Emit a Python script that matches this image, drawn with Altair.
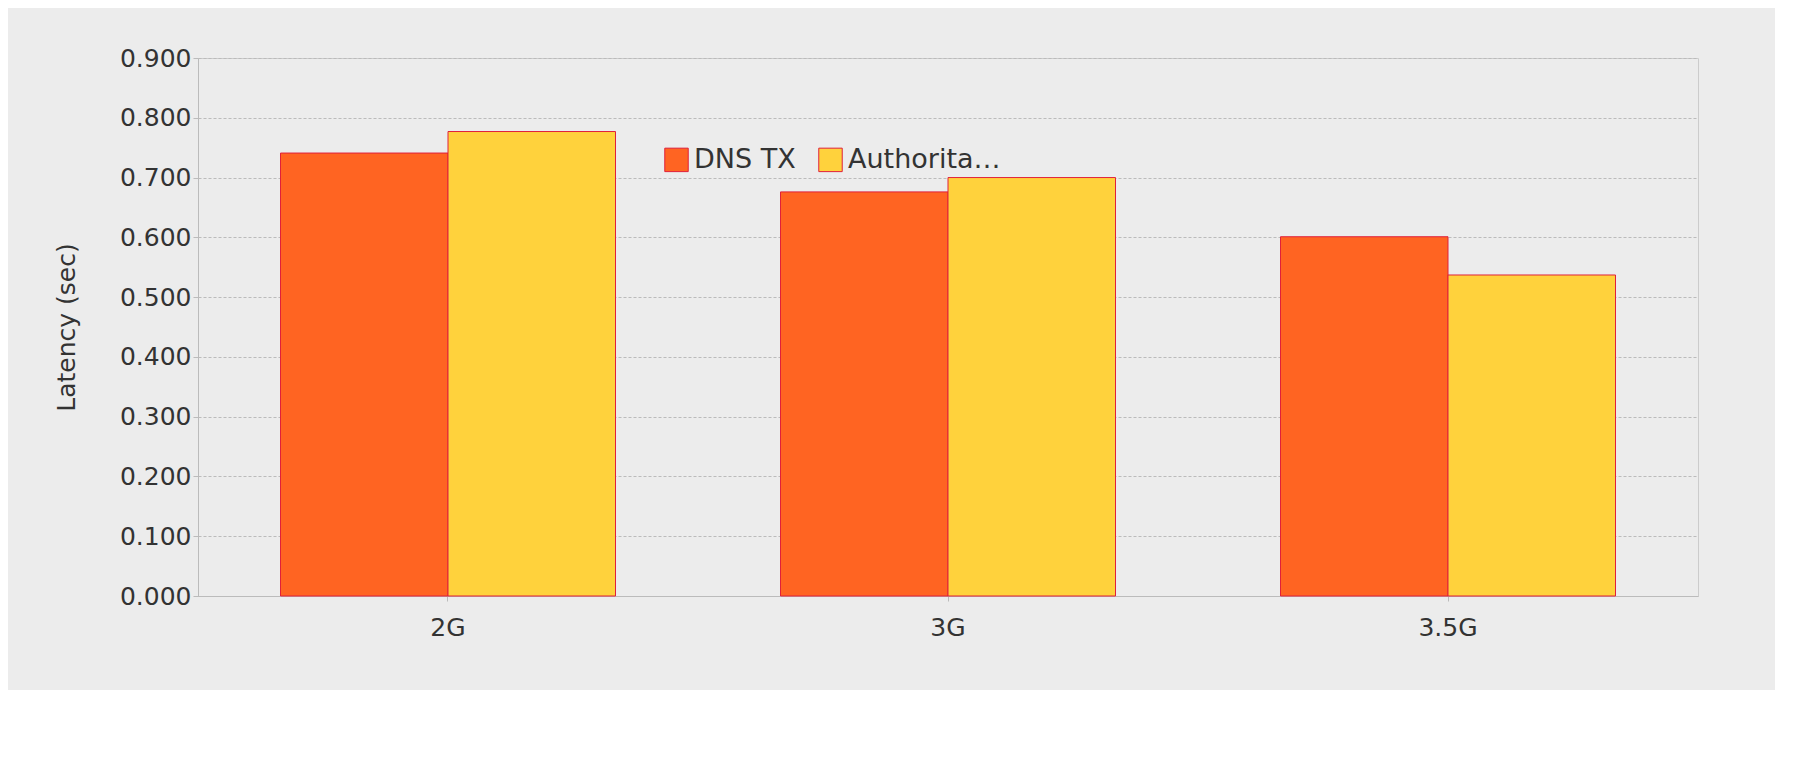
import altair as alt
import pandas as pd

groups = ["2G", "3G", "3.5G"]
series = ["DNS TX", "Authoritative"]
dns_tx = [0.741, 0.676, 0.601]
authoritative = [0.777, 0.700, 0.537]

rows = []
for g, a, b in zip(groups, dns_tx, authoritative):
    rows.append({"net": g, "series": "DNS TX", "v": a})
    rows.append({"net": g, "series": "Authoritative", "v": b})
df = pd.DataFrame(rows)

font = "DejaVu Sans"
chart = alt.Chart(df).mark_bar(stroke="#e0203a", strokeWidth=1).encode(
    x=alt.X("net:N", sort=groups, title=None,
            scale=alt.Scale(paddingInner=0.33, paddingOuter=0.165),
            axis=alt.Axis(labelAngle=0, labelFontSize=25, labelColor="#333",
                          labelFont=font, domainColor="#bbb", tickColor="#bbb",
                          labelPadding=14)),
    xOffset=alt.XOffset("series:N", sort=series),
    y=alt.Y("v:Q", title="Latency (sec)",
            scale=alt.Scale(domain=[0, 0.9]),
            axis=alt.Axis(values=[i / 10 for i in range(10)], format=".3f",
                          labelFontSize=25, labelColor="#333", labelFont=font,
                          titleFontSize=25, titleColor="#333", titleFont=font,
                          titleFontWeight="normal", gridDash=[3, 2], gridColor="#bbb",
                          domainColor="#bbb", tickColor="#bbb", titlePadding=40)),
    color=alt.Color("series:N", sort=series,
                    scale=alt.Scale(domain=series, range=["#ff6422", "#ffd23c"]),
                    legend=alt.Legend(orient="none", legendX=465, legendY=88,
                                      title=None, direction="horizontal",
                                      labelFontSize=27, labelFont=font, labelColor="#333",
                                      symbolType="square", symbolSize=550,
                                      symbolStrokeColor="#e0203a", symbolStrokeWidth=1,
                                      columnPadding=20)),
).properties(
    width=1500, height=538, background="#ececec",
    padding={"left": 46, "top": 38, "right": 77, "bottom": 50},
).configure_view(stroke="#ccc")

chart.save("out.html", embed_options={"renderer": "svg", "actions": False})
